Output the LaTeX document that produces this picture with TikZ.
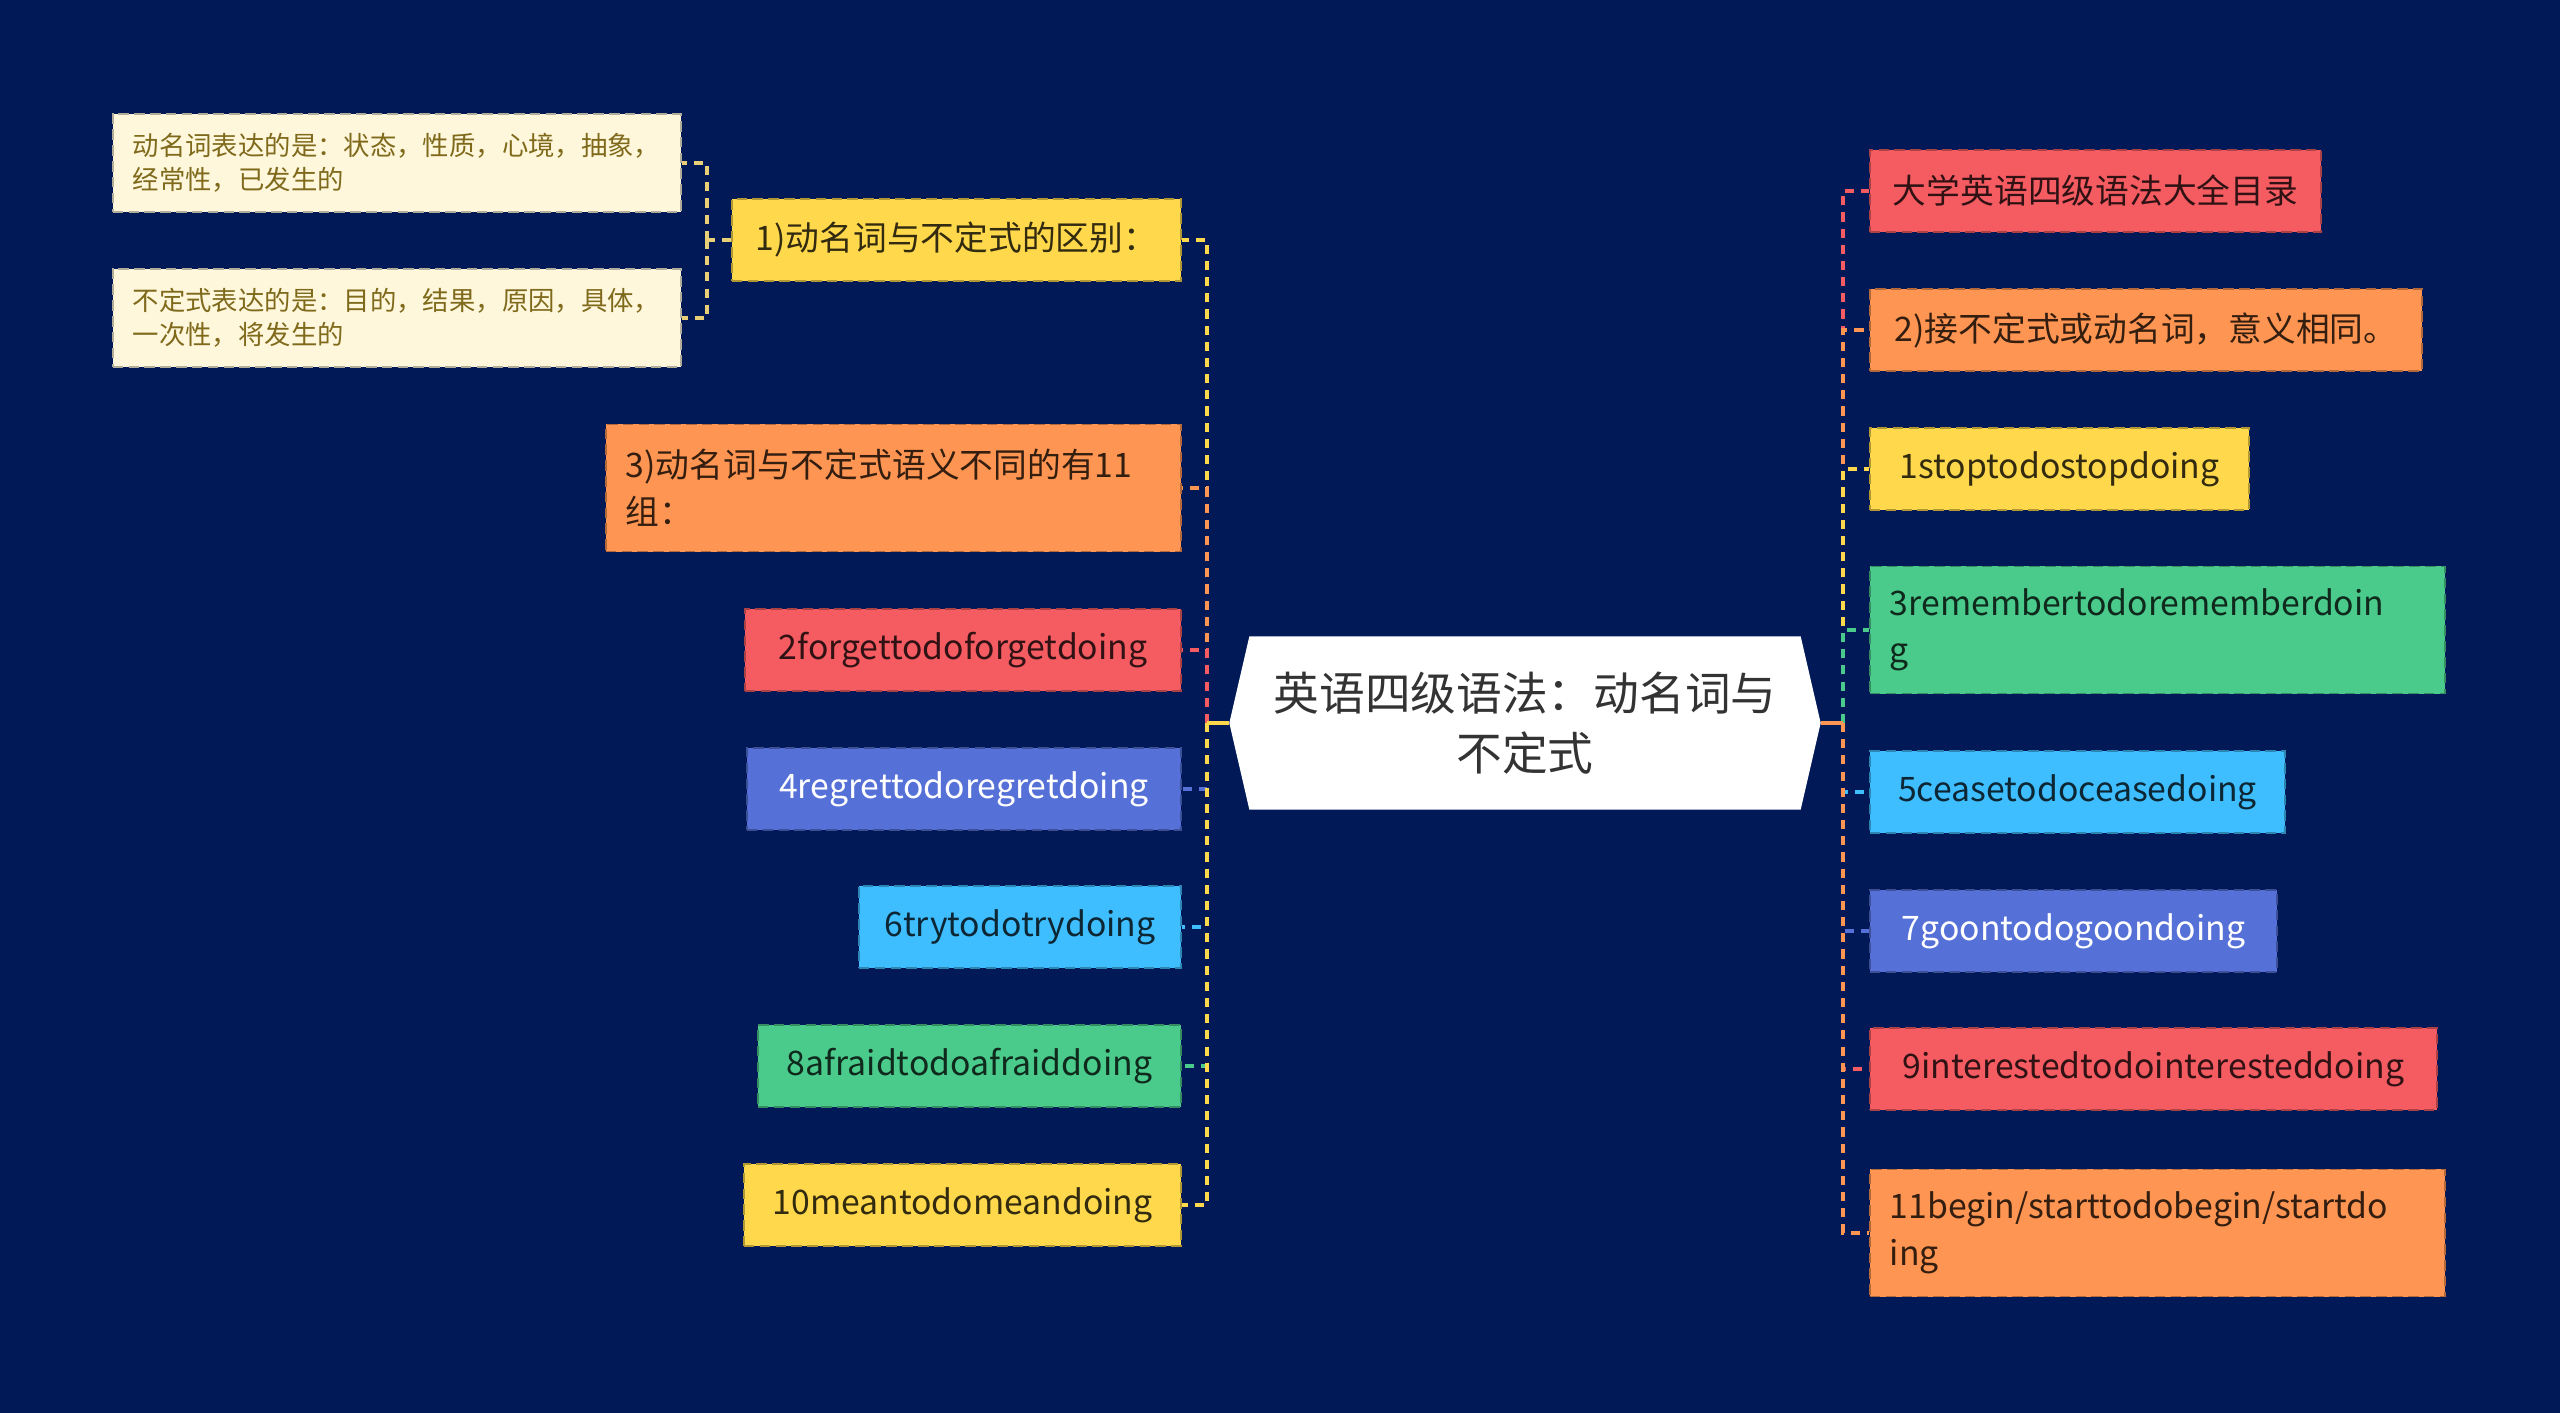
\documentclass[tikz,border=0pt]{standalone}
\usepackage{fontspec}
\setmainfont{Noto Sans CJK SC}
\usetikzlibrary{shapes.symbols}

\definecolor{navy}{HTML}{011A57}
\definecolor{cRed}{HTML}{F45C62}
\definecolor{cOrange}{HTML}{FF9552}
\definecolor{cYellow}{HTML}{FFD84C}
\definecolor{cGreen}{HTML}{4ACB8C}
\definecolor{cSky}{HTML}{3FBEFF}
\definecolor{cBlue}{HTML}{5571D8}
\definecolor{cCream}{HTML}{FFF7DC}
\definecolor{olive}{HTML}{7F6A1C}
\definecolor{subline}{HTML}{E9CF76}

\tikzset{
  topic/.style={rectangle, fill=#1, draw=#1!70!black, dash pattern=on 3pt off 1.5pt,
    line width=0.5pt, text=#1!20!black, inner xsep=0.2cm, inner ysep=0pt,
    minimum height=0.82cm, font=\fontsize{9.6}{13.4}\selectfont},
  note/.style={rectangle, fill=cCream, draw=cCream!70!black, dash pattern=on 3pt off 1.5pt,
    line width=0.5pt, text=olive, inner xsep=0.2cm, inner ysep=0pt,
    minimum height=0.98cm, text width=5.28cm, align=left,
    font=\fontsize{7.5}{9.8}\selectfont},
  wide/.style={text width=#1, align=left, minimum height=1.27cm},
  link/.style={draw=#1, dash pattern=on 2.6pt off 2pt, line width=1pt},
  trunk/.style={draw=#1, line width=1.4pt}
}

\begin{document}
\begin{tikzpicture}[x=0.01cm, y=-0.01cm]
    \useasboundingbox (0,0) rectangle (2560,1413);
    \fill[navy] (0,0) rectangle (2560,1413);

    % Root
    \node[signal, signal to=west and east, signal pointer angle=154, fill=white,
          minimum width=5.91cm, minimum height=1.73cm, inner sep=0pt, align=center,
          text=black!80, font=\fontsize{13}{17.2}\selectfont]
          (root) at (1525,723) {英语四级语法：动名词与\\不定式};

    % Left branch
    \node[topic=cYellow, anchor=east, minimum width=4.49cm] (diff) at (1182,240) {1)动名词与不定式的区别：};
    \node[topic=cOrange, anchor=east, wide=5.35cm] (groups) at (1182,488) {3)动名词与不定式语义不同的有11\\组：};
    \node[topic=cRed, anchor=east, minimum width=4.36cm] (forget) at (1182,650) {2forgettodoforgetdoing};
    \node[topic=cBlue, anchor=east, minimum width=4.34cm, text=white] (regret) at (1182,789) {4regrettodoregretdoing};
    \node[topic=cSky, anchor=east, minimum width=3.22cm] (try) at (1182,927) {6trytodotrydoing};
    \node[topic=cGreen, anchor=east, minimum width=4.23cm] (afraid) at (1182,1066) {8afraidtodoafraiddoing};
    \node[topic=cYellow, anchor=east, minimum width=4.37cm] (mean) at (1182,1205) {10meantodomeandoing};

    % Notes under 1)
    \node[note, anchor=east] (gerund) at (682,163) {动名词表达的是：状态，性质，心境，抽象，\\经常性，已发生的};
    \node[note, anchor=east] (infin) at (682,318) {不定式表达的是：目的，结果，原因，具体，\\一次性，将发生的};

    % Right branch
    \node[topic=cRed, anchor=west, minimum width=4.51cm] (contents) at (1869,191) {大学英语四级语法大全目录};
    \node[topic=cOrange, anchor=west, minimum width=5.52cm] (same) at (1869,330) {2)接不定式或动名词，意义相同。};
    \node[topic=cYellow, anchor=west, minimum width=3.79cm] (stop) at (1869,469) {1stoptodostopdoing};
    \node[topic=cGreen, anchor=west, wide=5.35cm] (remember) at (1869,630) {3remembertodorememberdoin\\g};
    \node[topic=cSky, anchor=west, minimum width=4.15cm] (cease) at (1869,792) {5ceasetodoceasedoing};
    \node[topic=cBlue, anchor=west, minimum width=4.07cm, text=white] (goon) at (1869,931) {7goontodogoondoing};
    \node[topic=cRed, anchor=west, minimum width=5.67cm] (interest) at (1869,1069) {9interestedtodointeresteddoing};
    \node[topic=cOrange, anchor=west, wide=5.35cm] (begin) at (1869,1233) {11begin/starttodobegin/startdo\\ing};

    % Connectors
    \coordinate (lj) at (1207,723);
    \coordinate (rj) at (1843,723);
    \coordinate (nj) at (707,240);
    \foreach \n/\c in {diff/cYellow, groups/cOrange, forget/cRed, regret/cBlue, try/cSky, afraid/cGreen, mean/cYellow}
        \draw[link=\c] (lj) |- (\n.east);
    \foreach \n/\c in {contents/cRed, same/cOrange, stop/cYellow, remember/cGreen, cease/cSky, goon/cBlue, interest/cRed, begin/cOrange}
        \draw[link=\c] (rj) |- (\n.west);
    \draw[trunk=cYellow] (root.west) -- (lj);
    \draw[trunk=cOrange] (root.east) -- (rj);
    \draw[link=subline] (diff.west) -- (nj);
    \draw[link=subline] (nj) |- (gerund.east);
    \draw[link=subline] (nj) |- (infin.east);
\end{tikzpicture}
\end{document}
